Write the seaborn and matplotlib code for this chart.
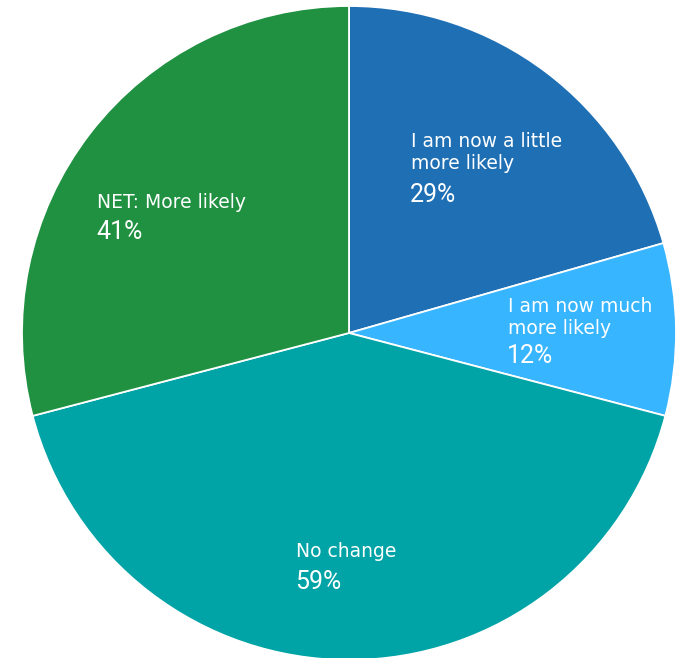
import matplotlib
matplotlib.use("Agg")
import matplotlib.pyplot as plt
import seaborn as sns

categories = ["I am now a little\nmore likely", "I am now much\nmore likely", "No change", "NET: More likely"]
values = [29, 12, 59, 41]
pct_labels = ["29%", "12%", "59%", "41%"]
colors = ["#1f6fb4", "#38b5ff", "#00a3a6", "#1f9141"]

sns.set_theme(style="white")
plt.rcParams['font.family'] = ['DejaVu Sans']

W, H = 678, 658
fig = plt.figure(figsize=(W / 100, H / 100), dpi=100)
# circle centre at (349, 333) px from top-left, radius 327 px
cx, cy, r = 349, 333, 327
ax = fig.add_axes([(cx - r) / W, (H - cy - r) / H, 2 * r / W, 2 * r / H])
wedges, _ = ax.pie(values, colors=colors, startangle=90, counterclock=False,
                   radius=1, wedgeprops=dict(edgecolor="white", linewidth=1.3),
                   frame=False)
for w in wedges:
    w.set_clip_on(False)
ax.set_xlim(-1, 1)
ax.set_ylim(-1, 1)
ax.set_aspect("equal")
ax.axis("off")

# label layout in pixels: left x, baseline of first name line, baseline of percentage
layout = [(411, 147, 202), (508, 312, 363), (296, 557, 589), (97, 208, 239)]
line_step = 22.5

def to_ax(px, py):
    return (px - (cx - r)) / (2 * r), ((cy + r) - py) / (2 * r)

for name, pct, (lx, ly, py) in zip(categories, pct_labels, layout):
    for i, line in enumerate(name.split("\n")):
        x, y = to_ax(lx, ly + i * line_step)
        ax.text(x, y, line, transform=ax.transAxes, color="white", fontsize=13.5,
                ha="left", va="baseline", family=['DejaVu Sans'])
    x, y = to_ax(lx - 1, py)
    ax.text(x, y, pct, transform=ax.transAxes, color="white", fontsize=18,
            ha="left", va="baseline",
            family=['Roboto', 'DejaVu Sans'])

fig.savefig("out.png", dpi=100)
